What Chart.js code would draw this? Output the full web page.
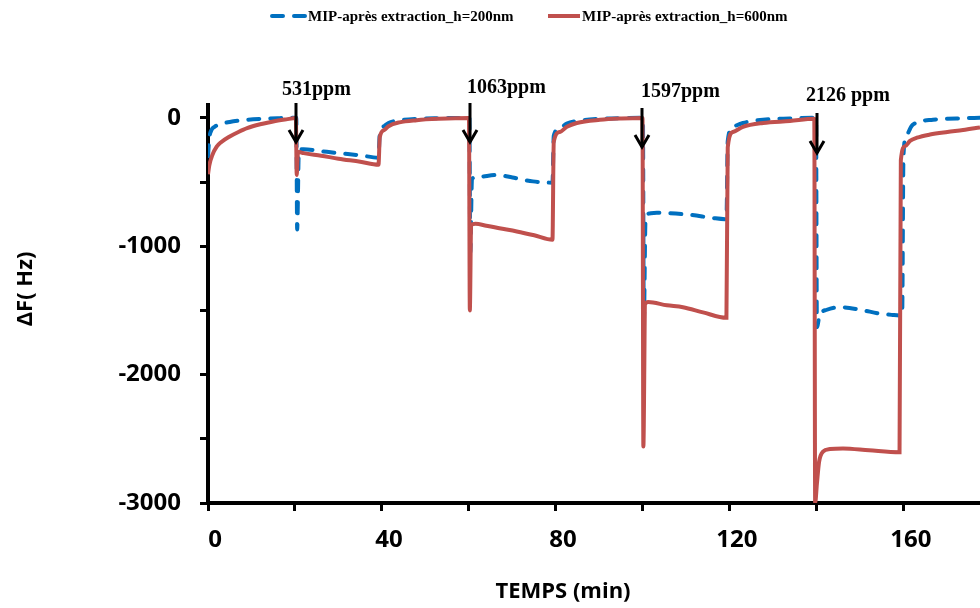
<!DOCTYPE html>
<html>
<head>
<meta charset="utf-8">
<script src="https://cdn.jsdelivr.net/npm/chart.js@4.4.3/dist/chart.umd.min.js"></script>
<style>
  html, body { margin: 0; padding: 0; background: #fff; }
  #wrap { width: 980px; height: 608px; position: relative; }
</style>
</head>
<body>
<div id="wrap"><canvas id="chart"></canvas></div>
<script>
// ---- données ----
const seriesLabels = ['MIP-après extraction_h=200nm', 'MIP-après extraction_h=600nm'];

// h=200nm (bleu, pointillé)
const tBlue = [0, 0.3, 0.8, 1.5, 3, 5, 8, 12, 16, 20.3,
  20.5, 20.9, 22, 26, 30, 35, 39.2,
  39.5, 40.5, 41.5, 44, 48, 53, 60.1,
  60.3, 60.7, 62, 66.4, 70, 74.7, 79.2,
  79.5, 80.9, 82.5, 84.8, 90, 95, 100.0,
  100.2, 100.6, 101.5, 103.2, 110.8, 116, 119.2,
  119.5, 120.7, 123, 127.6, 133.8, 139.8,
  140.0, 140.6, 142.3, 145.3, 150, 154.5, 157.3, 159.6,
  159.9, 160.5, 162, 166.7, 173.6, 177.5];
const dfBlue = [-300, -160, -95, -70, -48, -32, -18, -8, -3, 0,
  -870, -250, -245, -260, -275, -292, -310,
  -120, -65, -40, -20, -8, -3, 0,
  -1050, -475, -460, -445, -465, -495, -505,
  -140, -80, -45, -25, -8, -2, 0,
  -1600, -790, -745, -740, -755, -780, -790,
  -180, -70, -40, -15, -5, 0,
  -1630, -1540, -1495, -1475, -1495, -1525, -1535, -1540,
  -300, -150, -55, -15, -3, 0];

// h=600nm (rouge, continu)
const tRed = [0, 0.3, 1, 2, 3, 5, 7, 9, 12, 15, 18, 20.2,
  20.4, 20.7, 22, 26, 30, 35, 39.2,
  39.5, 40.5, 41.5, 44, 48, 53, 60.0,
  60.2, 60.5, 61.5, 64, 67, 71, 75, 79.2,
  79.5, 80.9, 82.5, 84.8, 90.1, 95, 99.9,
  100.1, 100.5, 101.2, 105.5, 109.2, 113.8, 119.2,
  119.5, 120.7, 123, 127.6, 133.8, 139.4,
  139.6, 140.0, 140.5, 141.4, 143, 146, 152, 159.0,
  159.3, 160.3, 161.4, 163, 166, 170, 173.6, 177.5];
const dfRed = [-440, -370, -290, -225, -190, -145, -110, -80, -50, -28, -12, -2,
  -445, -265, -275, -295, -318, -342, -365,
  -150, -95, -65, -35, -18, -8, -2,
  -1500, -835, -825, -840, -860, -885, -915, -950,
  -185, -110, -70, -40, -15, -5, -1,
  -2560, -1450, -1435, -1460, -1475, -1515, -1558,
  -230, -110, -70, -40, -25, -8,
  -3000, -2850, -2680, -2600, -2580, -2575, -2590, -2605,
  -330, -220, -180, -155, -130, -110, -95, -75];

// injections
const injectionTimes = [20.3, 60.2, 99.9, 140.0];
const injectionLabels = ['531ppm', '1063ppm', '1597ppm', '2126 ppm'];

// axes
const xTickValues = [0, 20, 40, 60, 80, 100, 120, 140, 160];
const xTickLabels = ['0', '', '40', '', '80', '', '120', '', '160'];
const yTickValues = [-3000, -2500, -2000, -1500, -1000, -500, 0];
const yTickLabels = ['-3000', '', '-2000', '', '-1000', '', '0'];
const xTitle = 'TEMPS (min)';
const yTitle = 'ΔF( Hz)';

const BLUE = '#0070C0';
const RED = '#C0504D';
const tickFont = { family: '"Open Sans", sans-serif', size: 24, weight: 'bold' };

// position des flèches / étiquettes (pixels)
const arrowLayout = [
  { top: 103, tip: 142, dx: -14, base: 95 },
  { top: 103, tip: 142, dx: -3, base: 93 },
  { top: 108, tip: 147, dx: -1, base: 97 },
  { top: 113, tip: 153, dx: -11, base: 101 },
];
const legendLayout = [
  { x0: 272, x1: 305, tx: 308 },
  { x0: 548, x1: 580, tx: 582 },
];

const overlay = {
  id: 'overlay',
  afterDatasetsDraw(chart) {
    const { ctx } = chart;
    const xs = chart.scales.x;
    ctx.save();

    // flèches + concentrations
    injectionTimes.forEach((t, i) => {
      const px = Math.round(xs.getPixelForValue(t));
      const a = arrowLayout[i];
      ctx.strokeStyle = '#000';
      ctx.lineWidth = 3;
      ctx.setLineDash([]);
      ctx.beginPath();
      ctx.moveTo(px, a.top);
      ctx.lineTo(px, a.tip);
      ctx.stroke();
      ctx.beginPath();
      ctx.moveTo(px - 7, a.tip - 12);
      ctx.lineTo(px, a.tip);
      ctx.lineTo(px + 7, a.tip - 12);
      ctx.stroke();
      ctx.font = 'bold 20px "Liberation Serif", serif';
      ctx.fillStyle = '#000';
      ctx.textAlign = 'left';
      ctx.textBaseline = 'alphabetic';
      ctx.fillText(injectionLabels[i], px + a.dx, a.base);
    });

    // légende
    chart.data.datasets.forEach((ds, i) => {
      const l = legendLayout[i];
      ctx.strokeStyle = ds.borderColor;
      ctx.lineWidth = ds.borderWidth;
      ctx.lineCap = ds.borderCapStyle || 'butt';
      ctx.setLineDash(ds.borderDash || []);
      ctx.beginPath();
      ctx.moveTo(l.x0, 16);
      ctx.lineTo(l.x1, 16);
      ctx.stroke();
      ctx.setLineDash([]);
      ctx.font = 'bold 15px "Liberation Serif", serif';
      ctx.fillStyle = '#000';
      ctx.textAlign = 'left';
      ctx.textBaseline = 'alphabetic';
      ctx.fillText(ds.label, l.tx, 21);
    });

    // titres des axes
    ctx.font = 'bold 22px "Open Sans", sans-serif';
    ctx.fillStyle = '#000';
    ctx.textAlign = 'center';
    ctx.textBaseline = 'middle';
    ctx.fillText(xTitle, 563, 592);
    ctx.translate(26, 289);
    ctx.rotate(-Math.PI / 2);
    ctx.fillText(yTitle, 0, 0);
    ctx.restore();
  }
};

const toPoints = (ts, vs) => ts.map((t, i) => ({ x: t, y: vs[i] }));

new Chart(document.getElementById('chart'), {
  type: 'line',
  data: {
    datasets: [
      {
        label: seriesLabels[0],
        data: toPoints(tBlue, dfBlue),
        borderColor: BLUE,
        borderWidth: 4,
        borderDash: [11, 11],
        borderCapStyle: 'round',
        pointRadius: 0,
        cubicInterpolationMode: 'monotone',
        fill: false,
        order: 1,
      },
      {
        label: seriesLabels[1],
        data: toPoints(tRed, dfRed),
        borderColor: RED,
        borderWidth: 4,
        pointRadius: 0,
        cubicInterpolationMode: 'monotone',
        fill: false,
        order: 0,
      },
    ]
  },
  options: {
    responsive: true,
    maintainAspectRatio: false,
    animation: false,
    devicePixelRatio: 1,
    layout: { padding: { top: 105, left: 0, right: 0, bottom: 0 } },
    plugins: { legend: { display: false }, tooltip: { enabled: false } },
    scales: {
      x: {
        type: 'linear',
        min: 0,
        max: 177.5,
        afterFit: s => { s.height = 105; },
        afterBuildTicks: s => { s.ticks = xTickValues.map(v => ({ value: v })); },
        ticks: {
          callback: (v, i) => xTickLabels[i],
          font: tickFont,
          color: '#000',
          padding: 15,
          maxRotation: 0,
          autoSkip: false,
          labelOffset: 7,
        },
        grid: { drawOnChartArea: false, color: '#000', tickLength: 8, tickWidth: 3 },
        border: { color: '#000', width: 4 },
      },
      y: {
        min: -3000,
        max: 100,
        afterFit: s => { s.width = 208; },
        afterBuildTicks: s => { s.ticks = yTickValues.map(v => ({ value: v })); },
        ticks: {
          callback: (v, i) => yTickLabels[i],
          font: tickFont,
          color: '#000',
          padding: 19,
          autoSkip: false,
        },
        grid: { drawOnChartArea: false, color: '#000', tickLength: 8, tickWidth: 3 },
        border: { color: '#000', width: 4 },
      }
    }
  },
  plugins: [overlay]
});
</script>
</body>
</html>
